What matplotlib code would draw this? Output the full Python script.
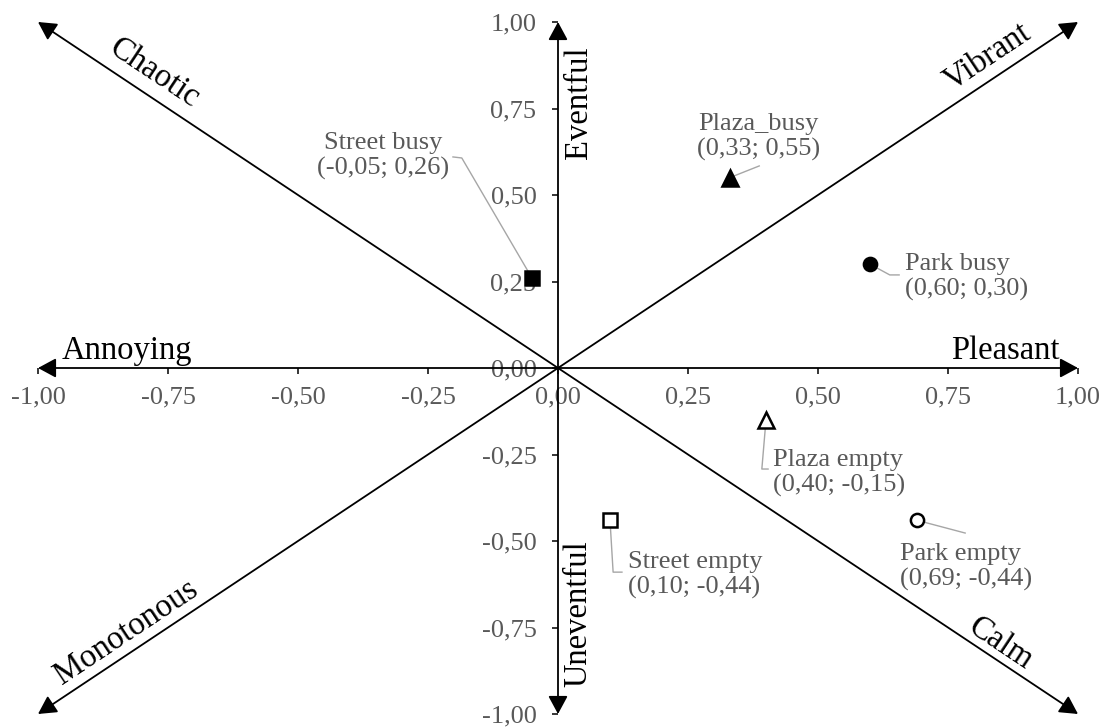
import matplotlib
matplotlib.use("Agg")
import matplotlib.pyplot as plt
from matplotlib.ticker import FuncFormatter

plt.rcParams["font.family"] = ["Liberation Serif", "DejaVu Serif"]

# Soundscape positions of the six sites (Pleasant / Eventful coordinates)
names = ["Street busy", "Plaza_busy", "Park busy", "Street empty", "Plaza empty", "Park empty"]
pleasant = [-0.05, 0.33, 0.60, 0.10, 0.40, 0.69]
eventful = [0.26, 0.55, 0.30, -0.44, -0.15, -0.44]
marker_shapes = ["s", "^", "o", "s", "^", "o"]
marker_filled = [True, True, True, False, False, False]

axis_ticks = [-1.00, -0.75, -0.50, -0.25, 0.00, 0.25, 0.50, 0.75, 1.00]

# Circumplex attribute names
main_labels = ["Pleasant", "Annoying", "Eventful", "Uneventful"]
diag_labels = ["Vibrant", "Chaotic", "Monotonous", "Calm"]

# Layout of each point's callout: text anchor, alignment and leader-line path
callout_text = {
    "Street busy": ((-0.337, 0.613), "center"),
    "Plaza_busy": ((0.385, 0.668), "center"),
    "Park busy": ((0.667, 0.262), "left"),
    "Street empty": ((0.135, -0.598), "left"),
    "Plaza empty": ((0.413, -0.303), "left"),
    "Park empty": ((0.658, -0.575), "left"),
}
callout_leader = {
    "Street busy": [(-0.185, 0.607), (-0.202, 0.610)],
    "Plaza_busy": [(0.387, 0.584)],
    "Park busy": [(0.638, 0.269), (0.656, 0.269)],
    "Street empty": [(0.106, -0.590), (0.123, -0.590)],
    "Plaza empty": [(0.392, -0.292), (0.404, -0.292)],
    "Park empty": [(0.783, -0.477)],
}

W, H = 1107, 727
fig = plt.figure(figsize=(W / 100, H / 100), dpi=100)
ax = fig.add_axes([38 / W, 13 / H, 1040 / W, 692 / H])
ax.set_xlim(-1, 1)
ax.set_ylim(-1, 1)

for side in ("top", "right"):
    ax.spines[side].set_visible(False)
for side in ("left", "bottom"):
    ax.spines[side].set_position(("data", 0))
    ax.spines[side].set_color("none")

fmt = FuncFormatter(lambda v, _: f"{v:.2f}".replace(".", ","))
ax.set_xticks(axis_ticks)
ax.set_yticks(axis_ticks)
ax.xaxis.set_major_formatter(fmt)
ax.yaxis.set_major_formatter(fmt)
ax.tick_params(axis="x", direction="out", length=4.5, width=1.1, color="black",
               labelcolor="#595959", labelsize=19, pad=8.5)
ax.tick_params(axis="y", direction="out", length=4.5, width=1.1, color="black",
               labelcolor="#595959", labelsize=19, pad=11)

arrow_props = dict(arrowstyle="<|-|>,head_length=0.5,head_width=0.27", color="black",
                   lw=1.3, mutation_scale=22, shrinkA=0, shrinkB=0)


def double_arrow(p0, p1):
    ax.annotate("", xy=p1, xytext=p0, arrowprops=arrow_props, annotation_clip=False, zorder=2)


double_arrow((-1, 0), (1, 0))
double_arrow((0, -1), (0, 1))
double_arrow((-1, -1), (1, 1))
double_arrow((-1, 1), (1, -1))

# Axis names
name_size = 23.5
ax.text(0.965, 0.026, main_labels[0], ha="right", va="baseline", fontsize=name_size)
ax.text(-0.954, 0.026, main_labels[1], ha="left", va="baseline", fontsize=name_size)
ax.text(0.040, 0.766, main_labels[2], ha="center", va="center", rotation=90, fontsize=name_size)
ax.text(0.038, -0.711, main_labels[3], ha="center", va="center", rotation=90, fontsize=name_size)

diag_pos = [(0.825, 0.899, 45), (-0.777, 0.853, -45), (-0.830, -0.765, 45), (0.852, -0.798, -45)]
for text, (x, y, rot) in zip(diag_labels, diag_pos):
    ax.text(x, y, text, ha="center", va="center", rotation=rot, rotation_mode="anchor",
            transform_rotates_text=True, fontsize=name_size)

# Points, leader lines and value callouts
for name, x, y, m, f in zip(names, pleasant, eventful, marker_shapes, marker_filled):
    path = [(x, y)] + callout_leader[name]
    ax.plot([p[0] for p in path], [p[1] for p in path], color="#A6A6A6", lw=1.0,
            zorder=3, clip_on=False)
    ms = {"s": 10, "^": 11.5, "o": 9.5}[m]
    ax.plot([x], [y], marker=m, ms=ms, mec="black", mew=1.8,
            mfc="black" if f else "white", ls="none", zorder=5, clip_on=False)
    (tx, ty), align = callout_text[name]
    label = f"{name}\n({x:.2f}; {y:.2f})".replace(".", ",")
    ax.text(tx, ty, label, ha=align, va="center", multialignment=align,
            fontsize=19, color="#595959", linespacing=1.15, zorder=6)

fig.savefig("out.png", dpi=100)
